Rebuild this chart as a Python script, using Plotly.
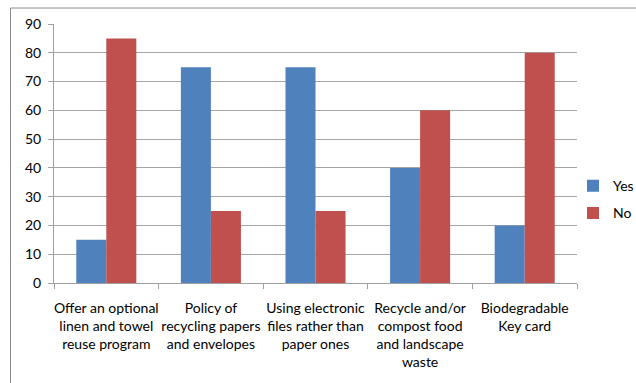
import plotly.graph_objects as go

categories = [
    "Offer an optional<br>linen and towel<br>reuse program",
    "Policy of<br>recycling papers<br>and envelopes",
    "Using electronic<br>files rather than<br>paper ones",
    "Recycle and/or<br>compost food<br>and landscape<br>waste",
    "Biodegradable<br>Key card",
]
yes_values = [15, 75, 75, 40, 20]
no_values = [85, 25, 25, 60, 80]
y_ticks = [0, 10, 20, 30, 40, 50, 60, 70, 80, 90]

FONT = "Lato"
W, H = 636, 383
L, R, T, B = 54, 59, 23.5, 100
pw = W - L - R
ph = H - T - B

fig = go.Figure()
fig.add_trace(go.Bar(name="Yes", x=categories, y=yes_values,
                     marker=dict(color="#4F81BD", line=dict(width=0)),
                     legendgroup="a"))
fig.add_trace(go.Bar(name="No", x=categories, y=no_values,
                     marker=dict(color="#C0504D", line=dict(width=0)),
                     legendgroup="b"))

def px_x(p):
    return (p - L) / pw

def px_y(p):
    return (H - B - p) / ph

fig.update_layout(
    width=W, height=H,
    margin=dict(l=L, r=R, t=T, b=B, autoexpand=False),
    paper_bgcolor="white", plot_bgcolor="white",
    barmode="group", bargap=0.426, bargroupgap=0,
    font=dict(family=FONT, size=14, color="#000000"),
    showlegend=True,
    legend=dict(x=px_x(573), y=px_y(170), xanchor="left", yanchor="top",
                font=dict(family=FONT, size=14), tracegroupgap=6,
                itemwidth=30, bgcolor="rgba(0,0,0,0)"),
    xaxis=dict(type="category", showgrid=False, showline=True,
               linecolor="#A0A0A0", linewidth=1,
               ticks="outside", tickson="boundaries", ticklen=5,
               tickcolor="#A0A0A0", tickangle=0, ticklabelstandoff=12,
               tickfont=dict(family=FONT, size=14)),
    yaxis=dict(range=[0, 90], tickvals=y_ticks, showgrid=True,
               gridcolor="#A6A6A6", gridwidth=1, showline=True,
               linecolor="#A0A0A0", linewidth=1, ticks="outside",
               ticklen=5, tickcolor="#A0A0A0", zeroline=False,
               ticklabelstandoff=4,
               tickfont=dict(family=FONT, size=14)),
    shapes=[dict(type="rect", xref="paper", yref="paper",
                 x0=px_x(10.5), x1=px_x(660), y0=px_y(400), y1=px_y(7.5),
                 line=dict(color="#8C8C8C", width=1), layer="below")],
)

fig.write_html("out.html")
